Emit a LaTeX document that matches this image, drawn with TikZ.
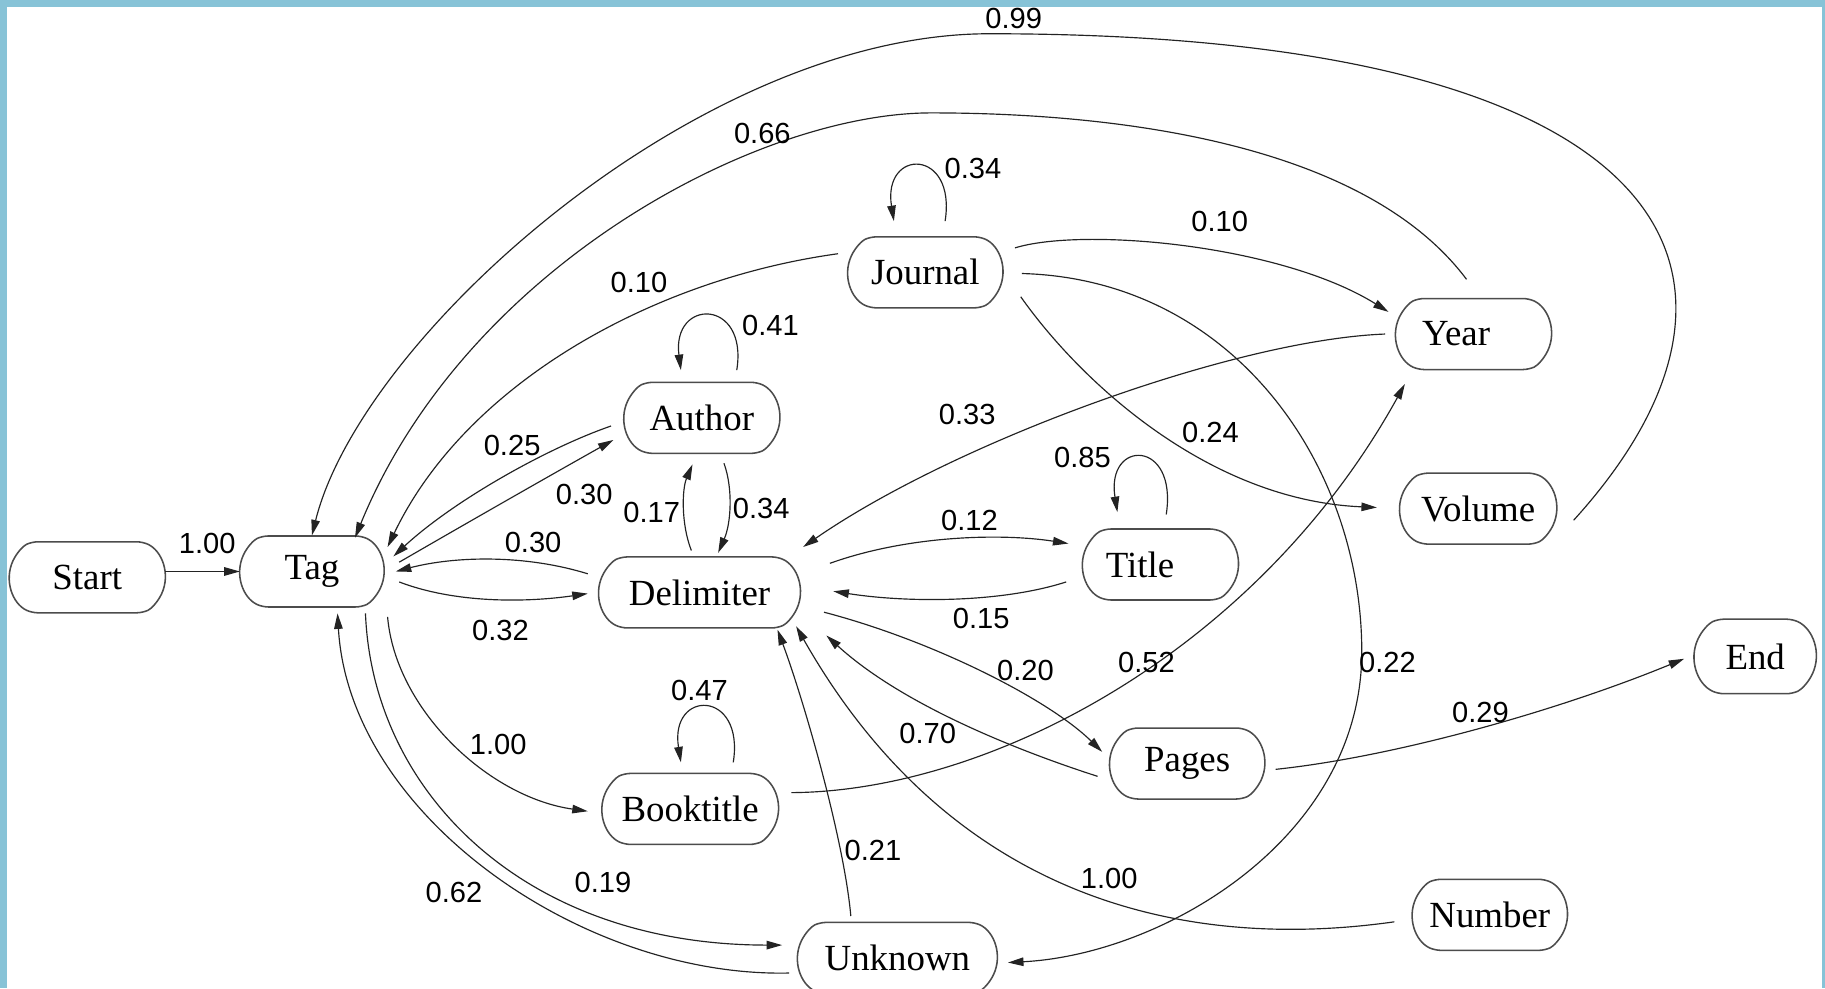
\documentclass[tikz,border=0pt]{standalone}
\usepackage{fontspec}
\setmainfont{Liberation Serif}
\newfontfamily\lblfont{Liberation Sans}
\usetikzlibrary{shapes.misc,arrows.meta,calc}
\definecolor{frameblue}{RGB}{135,195,215}
\definecolor{edgegray}{RGB}{35,35,35}
\begin{document}
\begin{tikzpicture}[x=0.6pt,y=-0.6pt,
  stbox/.style={draw=black!70, line width=0.8pt, fill=white, rounded rectangle,
    rounded rectangle arc length=130, rounded corners=3pt, minimum height=36.6pt, minimum width=80.4pt,
    inner sep=0pt, font=\fontsize{19}{22}\selectfont},
  lbl/.style={font=\lblfont\fontsize{15}{17}\selectfont, inner sep=0pt},
  conn/.style={draw=edgegray, line width=0.6pt, -{Triangle[length=8pt,width=4.4pt]}},
]
\fill[frameblue] (0,0) rectangle (1568,849);
\fill[white] (6,6) rectangle (1565,849);
\useasboundingbox (0,0) rectangle (1568,849);
\clip (0,0) rectangle (1568,849);

% nodes
\node[stbox] (S) at (75,496) {Start};
\node[stbox, minimum width=74.4pt] (T) at (268,491) {Tag};
\node[stbox] (A) at (603,359) {Author};
\node[stbox, minimum width=80pt] (J) at (795,234) {Journal};
\node[stbox, minimum width=104pt] (D) at (601,509) {Delimiter};
\node[stbox] (Ti) at (997,485) {Title\hspace*{21pt}};
\node[stbox] (Y) at (1266,287) {Year\hspace*{18pt}};
\node[stbox, minimum width=81pt] (V) at (1270,437) {Volume};
\node[stbox, minimum width=63pt, minimum height=38.4pt] (E) at (1508,564) {End};
\node[stbox, minimum width=80pt] (P) at (1020,656) {Pages};
\node[stbox, minimum width=91pt] (B) at (593,695) {Booktitle};
\node[stbox, minimum width=80pt] (N) at (1280,786) {Number};
\node[stbox, minimum width=103pt] (U) at (771,823) {Unknown};

% edges
\draw[conn] ($(S)+(67,-5)$) -- ($(T)+(-62,0)$);
\draw[conn] ($(V)+(82,10)$) .. controls (1540,240) and (1450,29) .. (850,29)
  .. controls (600,29) and (310,290) .. ($(T)+(0,-31)$);
\draw[conn] ($(Y)+(-6,-47)$) .. controls (1170,120) and (950,97) .. (800,97)
  .. controls (650,97) and (400,230) .. ($(T)+(37,-29)$);
\draw[conn] ($(J)+(-75,-16)$) .. controls (560,240) and (400,330) .. ($(T)+(65,-21)$);
\draw[conn] ($(A)+(-78,7)$) .. controls (470,385) and (390,430) .. ($(T)+(70,-13)$);
\draw[conn] ($(T)+(75,-8)$) .. controls (400,450) and (470,410) .. ($(A)+(-76,19)$);
\draw[conn] ($(D)+(-96,-16)$) .. controls (450,476) and (390,478) .. ($(T)+(72,0)$);
\draw[conn] ($(T)+(75,9)$) .. controls (390,518) and (450,518) .. ($(D)+(-96,1)$);
\draw[conn] ($(T)+(65,39)$) .. controls (340,610) and (420,685) .. ($(B)+(-88,2)$);
\draw[conn] ($(T)+(46,36)$) .. controls (320,680) and (450,812) .. ($(U)+(-99,-11)$);
\draw[conn] ($(U)+(-93,13)$) .. controls (500,840) and (300,700) .. ($(T)+(22,36)$);
% loops
\draw[conn] ($(A)+(30,-41)$) .. controls ($(A)+(40,-103)$) and ($(A)+(-26,-103)$) .. ($(A)+(-18,-41)$);
\draw[conn] ($(J)+(17,-44)$) .. controls ($(J)+(27,-107)$) and ($(J)+(-37,-107)$) .. ($(J)+(-27,-44)$);
\draw[conn] ($(B)+(37,-40)$) .. controls ($(B)+(47,-103)$) and ($(B)+(-18,-103)$) .. ($(B)+(-8,-40)$);
\draw[conn] ($(Ti)+(5,-43)$) .. controls ($(Ti)+(15,-108)$) and ($(Ti)+(-47,-108)$) .. ($(Ti)+(-37,-45)$);
% delimiter cluster
\draw[conn] ($(D)+(-7,-36)$) .. controls (585,450) and (586,420) .. ($(A)+(-8,40)$);
\draw[conn] ($(A)+(19,39)$) .. controls (630,420) and (628,450) .. ($(D)+(16,-34)$);
\draw[conn] ($(Y)+(-76,0)$) .. controls (1060,292) and (820,380) .. ($(D)+(89,-39)$);
\draw[conn] ($(D)+(112,-25)$) .. controls (780,460) and (860,458) .. ($(Ti)+(-79,-18)$);
\draw[conn] ($(Ti)+(-81,15)$) .. controls (860,518) and (780,518) .. ($(D)+(115,-1)$);
\draw[conn] ($(D)+(107,17)$) .. controls (800,550) and (900,600) .. ($(P)+(-73,-10)$);
\draw[conn] ($(P)+(-77,11)$) .. controls (890,650) and (780,610) .. ($(D)+(109,37)$);
\draw[conn] ($(N)+(-82,6)$) .. controls (1000,820) and (810,760) .. ($(D)+(83,29)$);
\draw[conn] ($(U)+(-40,-36)$) .. controls (725,720) and (690,600) .. ($(D)+(67,32)$);
\draw[conn] ($(B)+(87,-14)$) .. controls (850,680) and (1080,560) .. ($(Y)+(-59,43)$);
\draw[conn] ($(J)+(77,-21)$) .. controls (930,195) and (1100,210) .. ($(Y)+(-73,-19)$);
\draw[conn] ($(J)+(83,1)$) .. controls (1060,240) and (1170,400) .. (1170,560)
  .. controls (1170,720) and (1000,820) .. ($(U)+(95,4)$);
\draw[conn] ($(J)+(82,21)$) .. controls (930,330) and (1040,430) .. ($(V)+(-87,-1)$);
\draw[conn] ($(P)+(76,5)$) .. controls (1200,650) and (1340,610) .. ($(E)+(-61,2)$);

% labels
\node[lbl] (l01) at (178,467) {1.00};
\node[lbl] (l02) at (871,16) {0.99};
\node[lbl] (l03) at (655,115) {0.66};
\node[lbl] (l04) at (549,243) {0.10};
\node[lbl] (l05) at (440,383) {0.25};
\node[lbl] (l06) at (502,425) {0.30};
\node[lbl] (l07) at (458,466) {0.30};
\node[lbl] (l08) at (430,542) {0.32};
\node[lbl] (l09) at (428,640) {1.00};
\node[lbl] (l10) at (518,758) {0.19};
\node[lbl] (l11) at (390,767) {0.62};
\node[lbl] (l12) at (662,280) {0.41};
\node[lbl] (l13) at (836,145) {0.34};
\node[lbl] (l14) at (601,593) {0.47};
\node[lbl] (l15) at (930,393) {0.85};
\node[lbl] (l16) at (560,440) {0.17};
\node[lbl] (l17) at (654,437) {0.34};
\node[lbl] (l18) at (831,356) {0.33};
\node[lbl] (l19) at (833,447) {0.12};
\node[lbl] (l20) at (843,531) {0.15};
\node[lbl] (l21) at (881,576) {0.20};
\node[lbl] (l22) at (797,630) {0.70};
\node[lbl] (l23) at (953,755) {1.00};
\node[lbl] (l24) at (750,731) {0.21};
\node[lbl] (l25) at (985,569) {0.52};
\node[lbl] (l26) at (1048,190) {0.10};
\node[lbl] (l27) at (1192,569) {0.22};
\node[lbl] (l28) at (1040,372) {0.24};
\node[lbl] (l29) at (1272,612) {0.29};
\end{tikzpicture}
\end{document}
